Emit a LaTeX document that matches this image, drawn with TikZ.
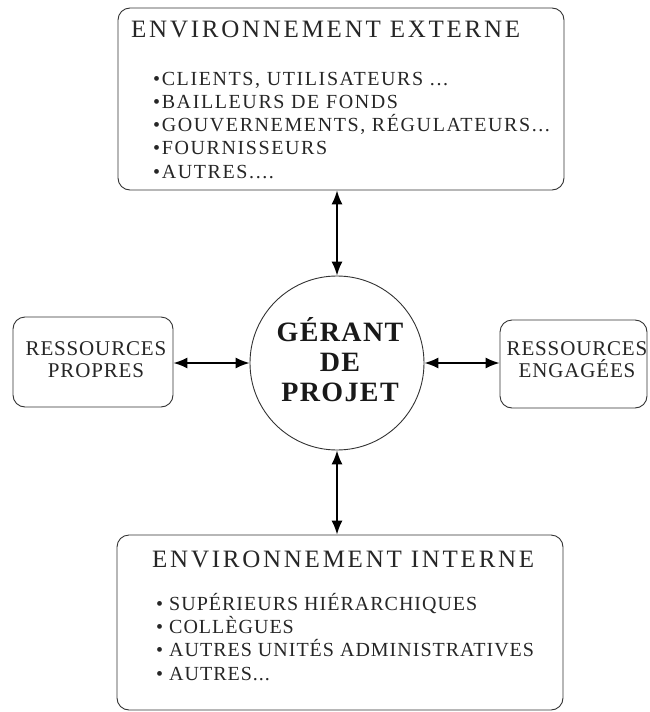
\documentclass[tikz,border=0pt]{standalone}
\usepackage{fontspec}
\setmainfont{Liberation Serif}
\newfontfamily\titlefont[LetterSpace=11]{Liberation Serif}
\newfontfamily\itemfont[LetterSpace=8]{Liberation Serif}
\newfontfamily\itemfontb[LetterSpace=5]{Liberation Serif}
\newfontfamily\sidefont[LetterSpace=4]{Liberation Serif}
\newfontfamily\centerfont[LetterSpace=5]{Liberation Serif}
\usetikzlibrary{arrows.meta}
\tikzset{
  box/.style={draw=black!80, line width=0.9pt, rounded corners=12pt, inner sep=0pt},
  hub/.style={draw=black!80, line width=0.9pt, circle, inner sep=0pt, minimum size=174pt},
  heading/.style={anchor=base west, inner sep=0pt, font=\titlefont\fontsize{25}{25}\selectfont, text=black!85},
  itemtop/.style={anchor=base west, inner sep=0pt, font=\itemfont\fontsize{20}{20}\selectfont, text=black!85},
  itembot/.style={anchor=base west, inner sep=0pt, font=\itemfontb\fontsize{20}{20}\selectfont, text=black!85},
  sidetext/.style={anchor=center, inner sep=0pt, align=center, font=\sidefont\fontsize{21}{22}\selectfont, text=black!85},
  hubtext/.style={anchor=base, inner sep=0pt, font=\centerfont\bfseries\fontsize{28}{28}\selectfont, text=black!90},
  link/.style={line width=1.6pt, {Latex[length=14pt,width=11pt]}-{Latex[length=14pt,width=11pt]}}
}
\begin{document}
\begin{tikzpicture}[x=1pt,y=-1pt]
\useasboundingbox (0,0) rectangle (649,712);

% frames
\node[box, minimum width=446pt, minimum height=182pt] (ext) at (341,99) {};
\node[box, minimum width=446pt, minimum height=175pt] (int) at (340,622.5) {};
\node[box, minimum width=160pt, minimum height=90pt] (own) at (93,362) {};
\node[box, minimum width=147pt, minimum height=88pt] (hired) at (573.5,364) {};
\node[hub] (gp) at (337,363) {};

% external environment
\node[heading] (exttitle) at (131,37) {ENVIRONNEMENT EXTERNE};
\node[itemtop] (e1) at (153,85) {•CLIENTS, UTILISATEURS ...};
\node[itemtop] (e2) at (153,108.25) {•BAILLEURS DE FONDS};
\node[itemtop] (e3) at (153,131.5) {•GOUVERNEMENTS, RÉGULATEURS...};
\node[itemtop] (e4) at (153,154.75) {•FOURNISSEURS};
\node[itemtop] (e5) at (153,178) {•AUTRES....};

% internal environment
\node[heading] (inttitle) at (152,567) {ENVIRONNEMENT INTERNE};
\node[itembot] (i1) at (156,610) {• SUPÉRIEURS HIÉRARCHIQUES};
\node[itembot] (i2) at (156,633.3) {• COLLÈGUES};
\node[itembot] (i3) at (156,656.6) {• AUTRES UNITÉS ADMINISTRATIVES};
\node[itembot] (i4) at (156,680) {• AUTRES...};

% resources
\node[sidetext] (ownlabel) at (96,360) {RESSOURCES\\PROPRES};
\node[sidetext] (hiredlabel) at (577,360) {RESSOURCES\\ENGAGÉES};

% project manager
\node[hubtext] (g1) at (340,341) {GÉRANT};
\node[hubtext] (g2) at (340,371) {DE};
\node[hubtext] (g3) at (340,401) {PROJET};

% links
\draw[link] (ext.south -| gp.north) -- (gp.north);
\draw[link] (gp.south) -- (int.north -| gp.south);
\draw[link] (own.east |- gp.west) -- (gp.west);
\draw[link] (gp.east) -- (hired.west |- gp.east);
\end{tikzpicture}
\end{document}
